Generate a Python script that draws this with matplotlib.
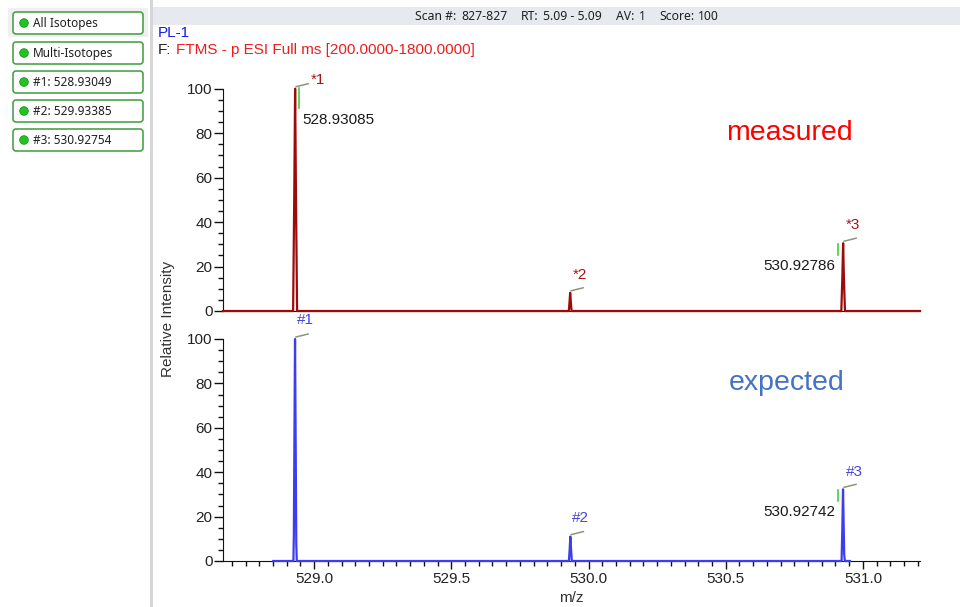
import matplotlib
matplotlib.use("Agg")
import matplotlib.pyplot as plt
from matplotlib.patches import FancyBboxPatch, Circle, Rectangle
from matplotlib.ticker import MultipleLocator

plt.rcParams['font.family'] = ['Liberation Sans', 'DejaVu Sans']

# ---------------- data ----------------
meas_mz = [528.668, 528.9235, 528.9275, 528.93085, 528.9340, 528.9380,
           529.9282, 529.9308, 529.9332, 529.9356, 529.9382,
           530.9212, 530.9250, 530.92786, 530.9307, 530.9345, 531.208]
meas_int = [0, 0, 50, 100, 50, 0,
            0, 4, 8.2, 4, 0,
            0, 15, 30.5, 15, 0, 0]

exp_mz = [528.851, 528.9245, 528.9262, 528.9280, 528.93049, 528.9330, 528.9350, 528.9368,
          529.9285, 529.9312, 529.93385, 529.9365, 529.9392,
          530.9222, 530.9250, 530.92754, 530.9300, 530.9318, 530.9340, 530.953]
exp_int = [0, 0, 12, 50, 100, 50, 8, 0,
           0, 5, 11, 5, 0,
           0, 15, 32.3, 15, 3, 0, 0]

meas_peak_mz = [528.93085, 529.9332, 530.92786]
meas_peak_int = [100, 8.2, 30.5]
meas_peak_labels = ['*1', '*2', '*3']
exp_peak_mz = [528.93049, 529.93385, 530.92754]
exp_peak_int = [100, 11, 32.3]
exp_peak_labels = ['#1', '#2', '#3']

meas_mass_text = ['528.93085', None, '530.92786']
exp_mass_text = [None, None, '530.92742']

sidebar_buttons = ['All Isotopes', 'Multi-Isotopes', '#1: 528.93049',
                   '#2: 529.93385', '#3: 530.92754']
header_parts = [('Scan #:', 'normal'), ('827-827', 'bold'), ('RT:', 'normal'),
                ('5.09 - 5.09', 'bold'), ('AV:', 'normal'), ('1', 'bold'),
                ('Score:', 'normal'), ('100', 'bold')]
x_major = [529.0, 529.5, 530.0, 530.5, 531.0]
y_major = [0, 20, 40, 60, 80, 100]

# ---------------- figure ----------------
W, H = 960, 607
fig = plt.figure(figsize=(W / 100, H / 100), dpi=100)
fig.patch.set_facecolor('white')

ov = fig.add_axes([0, 0, 1, 1], zorder=0)
ov.set_xlim(0, W)
ov.set_ylim(H, 0)
ov.axis('off')

# sidebar
ov.add_patch(Rectangle((149.5, 0), 3, H, color='#d6d6d6', lw=0))
ov.add_patch(Rectangle((8, 8), 140, 29, color='#f0f0f0', lw=0))
tops = [12, 42, 71, 100, 129]
for t, lab in zip(tops, sidebar_buttons):
    ov.add_patch(FancyBboxPatch((13, t), 130, 22, boxstyle='round,pad=0,rounding_size=3',
                                fc='white', ec='#3c9c3c', lw=1.1))
    ov.add_patch(Circle((24, t + 11), 4.3, fc='#22c322', ec='#169a16', lw=0.6))
    ov.text(33, t + 11.5, lab, fontsize=8.5, family=['Noto Sans', 'DejaVu Sans'],
            color='#1e1e1e', va='center', ha='left')

# header bar
ov.add_patch(Rectangle((153, 7), W - 153, 18, color='#e6e9ed', lw=0))
fig.canvas.draw()
renderer = fig.canvas.get_renderer()
x = 415
gaps = [5, 13, 5, 14, 5, 13, 4, 0]
for (s, wgt), g in zip(header_parts, gaps):
    t = ov.text(x, 16, s, fontsize=8.8, fontweight=wgt, family=['Noto Sans', 'DejaVu Sans'],
                color='#202020', va='center', ha='left')
    bb = t.get_window_extent(renderer)
    x = bb.x1 + g

ov.text(158, 33, 'PL-1', fontsize=11, color='#1a1ae6', va='center', ha='left')
t = ov.text(158, 50, 'F:', fontsize=11, color='#222222', va='center', ha='left')
bb = t.get_window_extent(renderer)
ov.text(bb.x1 + 5, 50, 'FTMS - p ESI Full ms [200.0000-1800.0000]', fontsize=11,
        color='#ee1c1c', va='center', ha='left')

ov.text(168, 319, 'Relative Intensity', fontsize=11, color='#333333', rotation=90,
        va='center', ha='center')
ov.text(571, 598, 'm/z', fontsize=11, color='#333333', va='center', ha='center')

# ---------------- chart axes ----------------
L, R = 223, 920
XMIN, XMAX = 528.668, 531.208


def mkax(y0px, y100px):
    ax = fig.add_axes([L / W, 1 - y0px / H, (R - L) / W, (y0px - y100px) / H], zorder=2)
    ax.set_facecolor('none')
    ax.set_xlim(XMIN, XMAX)
    ax.set_ylim(0, 100)
    for s in ['top', 'right']:
        ax.spines[s].set_visible(False)
    ax.spines['left'].set_color('#111111')
    ax.spines['bottom'].set_color('#111111')
    ax.yaxis.set_major_locator(MultipleLocator(20))
    ax.yaxis.set_minor_locator(MultipleLocator(5))
    ax.tick_params(axis='y', which='major', length=6.5, width=1, pad=1,
                   labelsize=11, labelcolor='#222222', color='#111111')
    ax.tick_params(axis='y', which='minor', length=3.6, width=1, color='#111111')
    return ax


ax1 = mkax(311, 88.7)
ax2 = mkax(561, 339)

ax1.tick_params(axis='x', which='both', bottom=False, labelbottom=False)
ax2.set_xticks(x_major)
ax2.set_xticklabels([f'{v:.1f}' for v in x_major])
ax2.xaxis.set_minor_locator(MultipleLocator(0.05))
ax2.tick_params(axis='x', which='major', length=5.8, width=1, pad=2,
                labelsize=11, labelcolor='#222222', color='#111111')
ax2.tick_params(axis='x', which='minor', length=3.6, width=1, color='#111111')
for ax in (ax1, ax2):
    ax.set_yticks(y_major)

ax1.plot(meas_mz, meas_int, color='#9e0a0a', lw=1.6, clip_on=False, zorder=3)
ax2.plot(exp_mz, exp_int, color='#3c3cf0', lw=1.6, clip_on=False, zorder=3)

pxx = (R - L) / (XMAX - XMIN)
pxy1 = (311 - 88.7) / 100
pxy2 = (561 - 339) / 100

leader_c = '#8d9478'
green_c = '#2ccc2c'


def annotate_panel(ax, pxy, mzs, ints, labels, masses, lab_color, lab_offsets):
    for i, (m, v, lab) in enumerate(zip(mzs, ints, labels)):
        ax.plot([m + 1 / pxx, m + 13 / pxx], [v + 2 / pxy, v + 5 / pxy],
                color=leader_c, lw=1.1, clip_on=False, zorder=4)
        dx, dy = lab_offsets[i]
        ax.annotate(lab, xy=(m, v), xytext=(dx, dy), textcoords='offset pixels',
                    ha='center', va='center', fontsize=11, color=lab_color,
                    annotation_clip=False)
        if masses[i] is not None:
            if i == 0:
                gx = m + 4 / pxx
                ax.plot([gx, gx], [v + 1 / pxy, v - 19 / pxy], color=green_c, lw=1.1,
                        clip_on=False, zorder=4)
                ax.annotate(masses[i], xy=(m, v), xytext=(7, -31), textcoords='offset pixels',
                            ha='left', va='center', fontsize=11, color='#1a1a1a',
                            annotation_clip=False)
            else:
                gx = m - 5 / pxx
                ax.plot([gx, gx], [v - 1 / pxy, v - 12 / pxy], color=green_c, lw=1.1,
                        clip_on=False, zorder=4)
                ax.annotate(masses[i], xy=(m, v), xytext=(-8, -23), textcoords='offset pixels',
                            ha='right', va='center', fontsize=11, color='#1a1a1a',
                            annotation_clip=False)


annotate_panel(ax1, pxy1, meas_peak_mz, meas_peak_int, meas_peak_labels, meas_mass_text,
               '#a81414', [(23, 9), (10, 18), (10, 18)])
annotate_panel(ax2, pxy2, exp_peak_mz, exp_peak_int, exp_peak_labels, exp_mass_text,
               '#4646dc', [(10, 19), (10, 19), (11, 17)])

ax1.text(0.813, 0.80, 'measured', transform=ax1.transAxes, fontsize=20.5,
         color='#ff0000', ha='center', va='center')
ax2.text(0.808, 0.80, 'expected', transform=ax2.transAxes, fontsize=20.5,
         color='#4472c4', ha='center', va='center')

fig.savefig('out.png', dpi=100, facecolor='white')
